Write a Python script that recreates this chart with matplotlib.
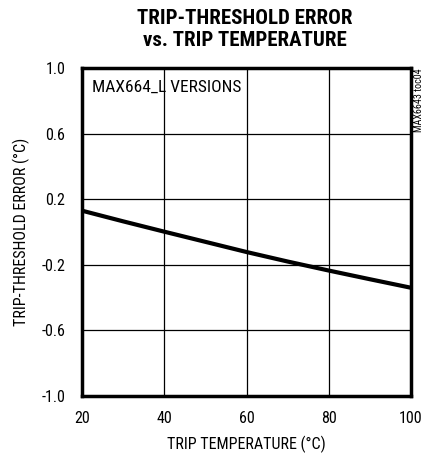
import matplotlib
matplotlib.use("Agg")
import matplotlib.pyplot as plt

temps = [20, 30, 40, 50, 60, 70, 80, 90, 100]
errors = [0.13, 0.065, 0.002, -0.06, -0.122, -0.18, -0.235, -0.288, -0.34]
xticks = [20, 40, 60, 80, 100]
yticks = [-1.0, -0.6, -0.2, 0.2, 0.6, 1.0]

plt.rcParams['font.family'] = ['Roboto Condensed', 'Archivo Narrow', 'DejaVu Sans']

fig = plt.figure(figsize=(4.27, 4.57), dpi=100)
ax = fig.add_axes([82/427, 1-396/457, (411-82)/427, (396-68)/457])
ax.plot(temps, errors, color='black', lw=3, solid_capstyle='butt', solid_joinstyle='round')
ax.set_xlim(20, 100)
ax.set_ylim(-1.0, 1.0)
ax.set_xticks(xticks)
ax.set_yticks(yticks)
ax.set_yticklabels([f"{v:.1f}" for v in yticks])
ax.grid(True, color='black', lw=0.9)
ax.tick_params(length=0, labelsize=11.5)
ax.tick_params(axis='y', pad=12)
ax.tick_params(axis='x', pad=11)
for s in ax.spines.values():
    s.set_linewidth(2.5)
ax.set_xlabel('TRIP TEMPERATURE (°C)', fontsize=11.5, labelpad=7)
ax.set_ylabel('TRIP-THRESHOLD ERROR (°C)', fontsize=11.5, labelpad=8)
ax.text(0.03, 0.965, 'MAX664_L VERSIONS', transform=ax.transAxes, fontsize=12.5,
        va='top', ha='left')
fig.text(245/427, 1-18/457, 'TRIP-THRESHOLD ERROR', ha='center', va='center',
         fontsize=15, fontweight='heavy')
fig.text(245/427, 1-41/457, 'vs. TRIP TEMPERATURE', ha='center', va='center',
         fontsize=15, fontweight='heavy')
fig.text(419/427, 1-68/457, 'MAX6643 toc04', rotation=90, ha='center', va='top', fontsize=7.2)
fig.savefig('out.png', dpi=100)
